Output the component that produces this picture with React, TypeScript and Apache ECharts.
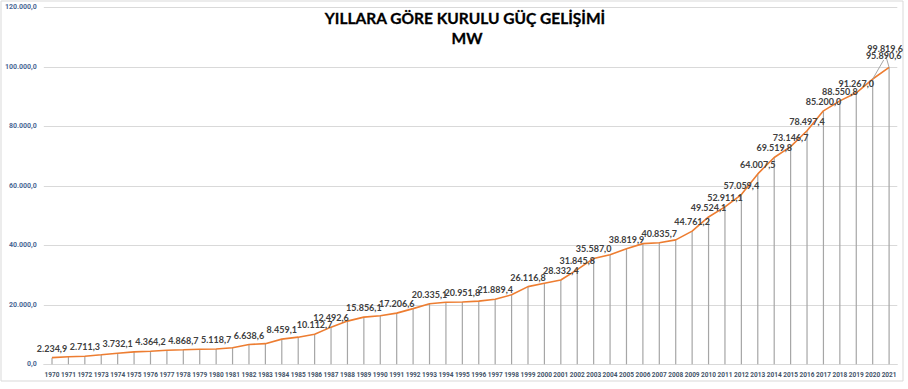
import React, { useEffect, useRef } from "react";
import * as echarts from "echarts";

const years: string[] = [
  "1970","1971","1972","1973","1974","1975","1976","1977","1978","1979",
  "1980","1981","1982","1983","1984","1985","1986","1987","1988","1989",
  "1990","1991","1992","1993","1994","1995","1996","1997","1998","1999",
  "2000","2001","2002","2003","2004","2005","2006","2007","2008","2009",
  "2010","2011","2012","2013","2014","2015","2016","2017","2018","2019",
  "2020","2021",
];

const capacityMW: number[] = [
  2234.9, 2535.4, 2711.3, 3192.6, 3732.1, 4186.6, 4364.2, 4727.1, 4868.7, 5050.0,
  5118.7, 5537.6, 6638.6, 6934.9, 8459.1, 9121.6, 10112.7, 12492.6, 14520.6, 15856.1,
  16317.6, 17206.6, 18716.1, 20335.1, 20859.8, 20951.8, 21249.4, 21889.4, 23354.0, 26116.8,
  27264.1, 28332.4, 31845.8, 35587.0, 36824.0, 38819.9, 40564.8, 40835.7, 41817.2, 44761.2,
  49524.1, 52911.1, 57059.4, 64007.5, 69519.8, 73146.7, 78497.4, 85200.0, 88550.8, 91267.0,
  95890.6, 99819.6,
];

const labeledYears: string[] = [
  "1970","1972","1974","1976","1978","1980","1982","1984","1986","1987",
  "1989","1991","1993","1995","1997","1999","2001","2002","2003","2005",
  "2007","2009","2010","2011","2012","2013","2014","2015","2016","2017",
  "2018","2019","2020","2021",
];

const titleLines: string[] = ["YILLARA GÖRE KURULU GÜÇ GELİŞİMİ", "MW"];

function fmt(v: number): string {
  const s = v.toFixed(1);
  const [i, d] = s.split(".");
  return i.replace(/\B(?=(\d{3})+(?!\d))/g, ".") + "," + d;
}

export default function App() {
  const ref = useRef<HTMLDivElement>(null);
  useEffect(() => {
    document.body.style.margin = "0";
    if (!ref.current) return;
    const chart = echarts.init(ref.current, undefined, { renderer: "svg" });
    const lastIdx = years.length - 1;
    const lineData = capacityMW.map((v, i) => {
      const show = labeledYears.includes(years[i]);
      const item: any = { value: v, label: { show } };
      if (i >= lastIdx - 1) {
        item.labelLine = { show: true, lineStyle: { color: "#a6a6a6", width: 1 } };
      }
      return item;
    });
    chart.setOption({
      animation: false,
      backgroundColor: "#ffffff",
      grid: { left: 43.8, right: 10.7, top: 7.3, bottom: 24.7, containLabel: false },
      graphic: [
        {
          type: "rect",
          shape: { x: 1, y: 1, width: 902, height: 380 },
          style: { fill: "none", stroke: "#d9d9d9", lineWidth: 1 },
          silent: true,
          z: -10,
        },
        {
          type: "text",
          x: 465,
          y: 18,
          style: {
            text: titleLines[0],
            textAlign: "center",
            textVerticalAlign: "middle",
            font: "bold 15.5px Lato",
            fill: "#000000",
            stroke: "#000000",
            lineWidth: 0.3,
          },
          z: 100,
        },
        {
          type: "text",
          x: 467,
          y: 38,
          style: {
            text: titleLines[1],
            textAlign: "center",
            textVerticalAlign: "middle",
            font: "bold 15.5px Lato",
            fill: "#000000",
            stroke: "#000000",
            lineWidth: 0.3,
          },
          z: 100,
        },
      ],
      xAxis: {
        type: "category",
        data: years,
        boundaryGap: true,
        axisLine: { show: true, lineStyle: { color: "#d9d9d9", width: 1 } },
        axisTick: { show: false },
        axisLabel: {
          interval: 0,
          fontSize: 6.5,
          fontWeight: "bold",
          fontFamily: "Roboto",
          color: "#44546a",
          margin: 7,
        },
        splitLine: { show: false },
      },
      yAxis: {
        type: "value",
        min: 0,
        max: 120000,
        interval: 20000,
        axisLine: { show: false },
        axisTick: { show: false },
        axisLabel: {
          formatter: (v: number) => fmt(v),
          fontSize: 7,
          fontWeight: "bold",
          fontFamily: "Roboto",
          color: "#4a6894",
          margin: 7,
        },
        splitLine: { lineStyle: { color: "#d9d9d9", width: 1 } },
      },
      series: [
        {
          type: "bar",
          data: capacityMW,
          barWidth: 1.2,
          itemStyle: { color: "#a6a6a6" },
          silent: true,
          z: 1,
        },
        {
          type: "line",
          data: lineData,
          symbol: "circle",
          symbolSize: 0.01,
          showSymbol: true,
          showAllSymbol: true,
          lineStyle: { color: "#ed7d31", width: 1.6 },
          itemStyle: { color: "#ed7d31" },
          z: 3,
          label: {
            position: "top",
            distance: 5,
            formatter: (p: any) => fmt(p.value),
            fontFamily: "Lato",
            fontWeight: "bold",
            fontSize: 9,
            color: "#404040",
          },
          labelLayout: (p: any) => {
            const r = p.labelRect;
            if (p.dataIndex === lastIdx) {
              return { x: r.x - 4, y: r.y - 9 };
            }
            if (p.dataIndex === lastIdx - 1) {
              return { x: r.x + 11, y: r.y - 14 };
            }
            return {};
          },
        },
      ],
    });
    return () => chart.dispose();
  }, []);
  return (
    <div
      ref={ref}
      style={{ position: "absolute", left: 0, top: 0, width: 908, height: 389 }}
    />
  );
}
